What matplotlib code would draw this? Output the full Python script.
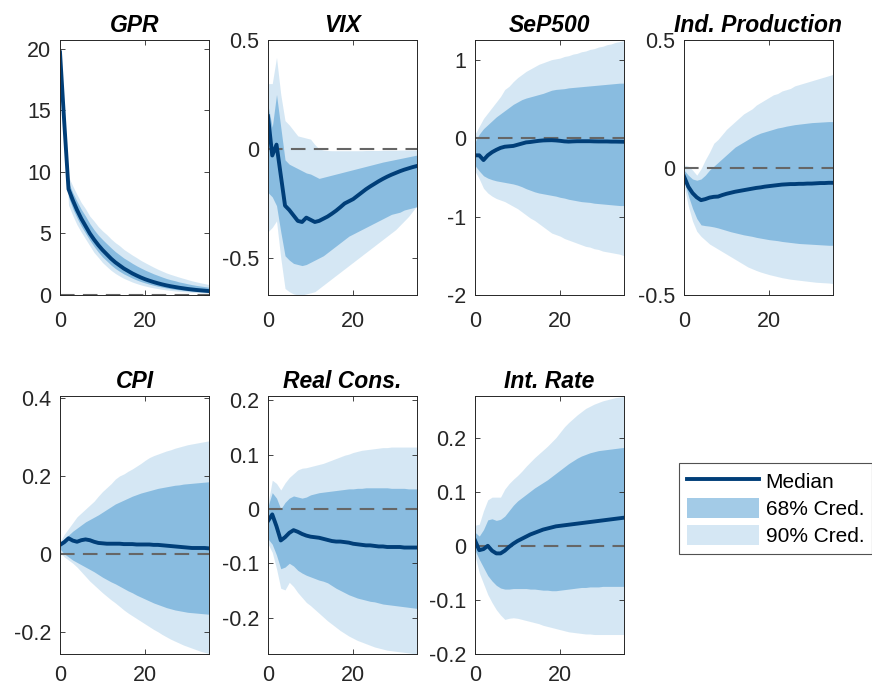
import matplotlib
matplotlib.use("Agg")
import matplotlib.pyplot as plt
import numpy as np

plt.rcParams['font.family'] = ['Liberation Sans', 'DejaVu Sans']

horizons = list(range(36))

# ---------------- GPR ----------------
gpr_med = [19.7, 14.0, 8.6, 7.7, 6.9, 6.2, 5.6, 5.0, 4.5, 4.05, 3.65, 3.3, 2.95, 2.65, 2.4, 2.15, 1.95, 1.75,
           1.58, 1.42, 1.28, 1.16, 1.05, 0.95, 0.86, 0.78, 0.71, 0.65, 0.59, 0.54, 0.49, 0.45, 0.41, 0.38, 0.35, 0.32]
gpr_up90 = [19.9, 14.5, 9.6, 8.85, 8.15, 7.5, 7.0, 6.4, 6.0, 5.55, 5.2, 4.9, 4.55, 4.25, 4.0, 3.7, 3.47, 3.24,
            3.03, 2.81, 2.62, 2.44, 2.26, 2.09, 1.94, 1.79, 1.67, 1.56, 1.45, 1.35, 1.25, 1.15, 1.07, 0.99, 0.92, 0.85]
gpr_lo90 = [19.5, 13.3, 7.3, 6.45, 5.7, 5.1, 4.55, 4.0, 3.45, 3.05, 2.63, 2.31, 2.0, 1.75, 1.54, 1.35, 1.2, 1.05,
            0.93, 0.82, 0.73, 0.65, 0.58, 0.52, 0.46, 0.41, 0.37, 0.33, 0.3, 0.27, 0.245, 0.22, 0.2, 0.18, 0.165, 0.15]
gpr_up68 = [19.8, 14.25, 9.15, 8.3, 7.6, 6.95, 6.4, 5.8, 5.3, 4.86, 4.5, 4.16, 3.83, 3.52, 3.26, 3.0, 2.79, 2.57,
            2.37, 2.19, 2.02, 1.87, 1.72, 1.59, 1.46, 1.34, 1.24, 1.16, 1.06, 0.99, 0.91, 0.84, 0.78, 0.73, 0.68, 0.63]
gpr_lo68 = [19.6, 13.7, 7.95, 7.0, 6.25, 5.58, 5.01, 4.45, 3.94, 3.48, 3.08, 2.76, 2.43, 2.15, 1.92, 1.71, 1.54, 1.37,
            1.22, 1.09, 0.98, 0.88, 0.79, 0.71, 0.64, 0.57, 0.51, 0.46, 0.42, 0.38, 0.34, 0.31, 0.28, 0.26, 0.24, 0.22]

# ---------------- VIX ----------------
vix_med = [0.15, -0.03, 0.02, -0.12, -0.26, -0.28, -0.305, -0.33, -0.335, -0.315, -0.325, -0.335, -0.33, -0.32,
           -0.31, -0.297, -0.283, -0.267, -0.25, -0.24, -0.23, -0.215, -0.2, -0.185, -0.172, -0.16, -0.148, -0.137,
           -0.127, -0.118, -0.11, -0.102, -0.095, -0.089, -0.083, -0.078]
vix_up90 = [0.3, 0.3, 0.42, 0.25, 0.13, 0.11, 0.085, 0.06, 0.055, 0.05, 0.045, 0.02, 0.0, -0.005, -0.007, -0.008,
            -0.008, -0.008, -0.008, -0.008, -0.008, -0.008, -0.008, -0.007, -0.007, -0.007, -0.007, -0.006, -0.006,
            -0.006, -0.006, -0.005, -0.005, -0.005, -0.005, -0.005]
vix_lo90 = [-0.38, -0.36, -0.33, -0.5, -0.64, -0.655, -0.665, -0.67, -0.67, -0.665, -0.66, -0.655, -0.64, -0.625,
            -0.61, -0.595, -0.58, -0.565, -0.55, -0.535, -0.52, -0.505, -0.49, -0.475, -0.46, -0.445, -0.43, -0.415,
            -0.4, -0.385, -0.37, -0.35, -0.33, -0.31, -0.285, -0.26]
vix_up68 = [0.2, 0.1, 0.25, 0.1, -0.05, -0.07, -0.08, -0.09, -0.1, -0.11, -0.115, -0.125, -0.135, -0.13, -0.125,
            -0.12, -0.115, -0.11, -0.105, -0.1, -0.095, -0.09, -0.085, -0.08, -0.075, -0.07, -0.065, -0.06, -0.056,
            -0.052, -0.048, -0.044, -0.04, -0.036, -0.032, -0.028]
vix_lo68 = [-0.2, -0.22, -0.26, -0.38, -0.49, -0.51, -0.525, -0.53, -0.535, -0.53, -0.52, -0.51, -0.5, -0.49,
            -0.475, -0.46, -0.445, -0.43, -0.415, -0.4, -0.39, -0.38, -0.37, -0.36, -0.35, -0.34, -0.33, -0.32,
            -0.31, -0.3, -0.295, -0.29, -0.28, -0.275, -0.27, -0.265]

# ---------------- SeP500 ----------------
sp_med = [-0.22, -0.22, -0.28, -0.22, -0.18, -0.15, -0.125, -0.11, -0.105, -0.1, -0.085, -0.07, -0.055, -0.05,
          -0.042, -0.035, -0.03, -0.028, -0.027, -0.03, -0.035, -0.042, -0.045, -0.042, -0.04, -0.04, -0.04, -0.04,
          -0.042, -0.043, -0.043, -0.043, -0.045, -0.045, -0.046, -0.047]
sp_up90 = [0.05, 0.15, 0.25, 0.32, 0.39, 0.46, 0.53, 0.62, 0.66, 0.72, 0.77, 0.81, 0.85, 0.88, 0.91, 0.94, 0.96,
           0.98, 1.0, 1.01, 1.02, 1.04, 1.05, 1.07, 1.08, 1.1, 1.11, 1.13, 1.14, 1.16, 1.17, 1.19, 1.2, 1.22, 1.23, 1.245]
sp_lo90 = [-0.42, -0.52, -0.64, -0.7, -0.74, -0.77, -0.79, -0.81, -0.84, -0.87, -0.9, -0.94, -0.98, -1.02, -1.05,
           -1.09, -1.13, -1.17, -1.21, -1.23, -1.25, -1.28, -1.3, -1.32, -1.34, -1.36, -1.38, -1.39, -1.41, -1.42,
           -1.44, -1.45, -1.46, -1.47, -1.48, -1.5]
sp_up68 = [-0.05, 0.05, 0.12, 0.17, 0.22, 0.27, 0.31, 0.35, 0.39, 0.43, 0.46, 0.49, 0.51, 0.525, 0.54, 0.555, 0.57,
           0.59, 0.61, 0.62, 0.625, 0.63, 0.64, 0.645, 0.65, 0.655, 0.66, 0.665, 0.67, 0.675, 0.68, 0.685, 0.69,
           0.695, 0.7, 0.7]
sp_lo68 = [-0.35, -0.42, -0.48, -0.51, -0.53, -0.545, -0.555, -0.565, -0.575, -0.585, -0.6, -0.62, -0.645, -0.665,
           -0.685, -0.7, -0.71, -0.72, -0.73, -0.74, -0.755, -0.765, -0.78, -0.79, -0.8, -0.81, -0.815, -0.82, -0.83,
           -0.835, -0.84, -0.845, -0.85, -0.855, -0.86, -0.86]

# ---------------- Ind. Production ----------------
ip_med = [-0.035, -0.075, -0.1, -0.117, -0.128, -0.124, -0.118, -0.115, -0.114, -0.108, -0.103, -0.099, -0.095,
          -0.092, -0.089, -0.086, -0.083, -0.08, -0.078, -0.075, -0.073, -0.071, -0.069, -0.067, -0.066, -0.065,
          -0.065, -0.064, -0.064, -0.063, -0.063, -0.062, -0.061, -0.061, -0.06, -0.06]
ip_up90 = [0.01, 0.005, -0.01, -0.03, -0.005, 0.03, 0.06, 0.095, 0.11, 0.13, 0.15, 0.165, 0.18, 0.195, 0.21, 0.22,
           0.23, 0.245, 0.255, 0.265, 0.275, 0.285, 0.29, 0.3, 0.305, 0.31, 0.32, 0.325, 0.33, 0.335, 0.34, 0.345,
           0.35, 0.355, 0.36, 0.365]
ip_lo90 = [-0.07, -0.15, -0.21, -0.25, -0.27, -0.285, -0.3, -0.31, -0.32, -0.33, -0.34, -0.35, -0.36, -0.37, -0.38,
           -0.39, -0.397, -0.404, -0.41, -0.415, -0.42, -0.424, -0.428, -0.432, -0.435, -0.438, -0.44, -0.442,
           -0.444, -0.446, -0.448, -0.45, -0.451, -0.452, -0.453, -0.455]
ip_up68 = [-0.01, -0.03, -0.045, -0.05, -0.045, -0.03, -0.01, 0.005, 0.02, 0.035, 0.05, 0.065, 0.08, 0.09, 0.1,
           0.11, 0.12, 0.128, 0.135, 0.14, 0.145, 0.15, 0.155, 0.158, 0.162, 0.165, 0.168, 0.17, 0.172, 0.174,
           0.176, 0.177, 0.178, 0.179, 0.18, 0.18]
ip_lo68 = [-0.05, -0.11, -0.16, -0.2, -0.225, -0.228, -0.23, -0.233, -0.237, -0.242, -0.247, -0.252, -0.256, -0.26,
           -0.264, -0.267, -0.27, -0.274, -0.277, -0.28, -0.283, -0.285, -0.287, -0.29, -0.292, -0.294, -0.296,
           -0.298, -0.299, -0.3, -0.301, -0.302, -0.303, -0.304, -0.305, -0.305]

# ---------------- CPI ----------------
cpi_med = [0.023, 0.03, 0.04, 0.034, 0.031, 0.035, 0.037, 0.035, 0.031, 0.028, 0.027, 0.026, 0.026, 0.026, 0.026,
           0.025, 0.025, 0.025, 0.024, 0.024, 0.024, 0.024, 0.023, 0.023, 0.022, 0.021, 0.02, 0.019, 0.018, 0.017,
           0.016, 0.015, 0.015, 0.015, 0.015, 0.014]
cpi_up90 = [0.03, 0.05, 0.065, 0.08, 0.095, 0.105, 0.115, 0.125, 0.135, 0.148, 0.16, 0.17, 0.18, 0.192, 0.2, 0.205,
            0.212, 0.218, 0.225, 0.232, 0.24, 0.247, 0.252, 0.256, 0.26, 0.264, 0.267, 0.271, 0.274, 0.277, 0.28,
            0.282, 0.284, 0.286, 0.288, 0.29]
cpi_lo90 = [0.004, -0.008, -0.016, -0.024, -0.034, -0.046, -0.058, -0.07, -0.08, -0.09, -0.1, -0.109, -0.118,
            -0.126, -0.135, -0.144, -0.152, -0.159, -0.166, -0.173, -0.18, -0.187, -0.194, -0.2, -0.207, -0.213,
            -0.219, -0.224, -0.229, -0.234, -0.238, -0.242, -0.246, -0.25, -0.253, -0.256]
cpi_up68 = [0.027, 0.038, 0.048, 0.058, 0.066, 0.074, 0.082, 0.088, 0.094, 0.1, 0.107, 0.114, 0.121, 0.128, 0.133,
            0.138, 0.143, 0.148, 0.152, 0.156, 0.159, 0.162, 0.165, 0.168, 0.17, 0.172, 0.174, 0.176, 0.177, 0.179,
            0.18, 0.181, 0.182, 0.183, 0.184, 0.185]
cpi_lo68 = [0.013, 0.0, -0.008, -0.016, -0.022, -0.028, -0.034, -0.04, -0.046, -0.053, -0.06, -0.066, -0.072,
            -0.077, -0.083, -0.089, -0.095, -0.1, -0.106, -0.111, -0.116, -0.121, -0.126, -0.13, -0.134, -0.138,
            -0.141, -0.144, -0.146, -0.148, -0.15, -0.151, -0.152, -0.153, -0.154, -0.155]

# ---------------- Real Cons. ----------------
rc_med = [-0.022, -0.01, -0.032, -0.058, -0.052, -0.044, -0.039, -0.042, -0.046, -0.049, -0.051, -0.052, -0.053,
          -0.055, -0.057, -0.059, -0.06, -0.06, -0.061, -0.062, -0.064, -0.065, -0.066, -0.067, -0.067, -0.068,
          -0.069, -0.069, -0.07, -0.07, -0.07, -0.07, -0.071, -0.071, -0.071, -0.071]
rc_up90 = [0.01, 0.053, 0.047, 0.035, 0.048, 0.058, 0.065, 0.072, 0.075, 0.076, 0.078, 0.08, 0.082, 0.084, 0.087,
           0.09, 0.093, 0.096, 0.099, 0.101, 0.104, 0.106, 0.108, 0.109, 0.11, 0.111, 0.112, 0.113, 0.113, 0.114,
           0.114, 0.114, 0.114, 0.114, 0.114, 0.114]
rc_lo90 = [-0.064, -0.08, -0.11, -0.146, -0.149, -0.135, -0.143, -0.154, -0.163, -0.172, -0.178, -0.185, -0.192,
           -0.199, -0.206, -0.212, -0.218, -0.224, -0.229, -0.234, -0.238, -0.242, -0.245, -0.248, -0.251, -0.254,
           -0.256, -0.258, -0.26, -0.261, -0.262, -0.263, -0.264, -0.265, -0.266, -0.267]
rc_up68 = [0.005, 0.03, 0.02, 0.0, 0.012, 0.02, 0.024, 0.022, 0.02, 0.022, 0.026, 0.028, 0.03, 0.031, 0.032, 0.033,
           0.034, 0.035, 0.036, 0.037, 0.037, 0.038, 0.038, 0.039, 0.039, 0.039, 0.039, 0.039, 0.039, 0.038, 0.038,
           0.038, 0.038, 0.037, 0.037, 0.037]
rc_lo68 = [-0.055, -0.065, -0.085, -0.11, -0.107, -0.1, -0.105, -0.113, -0.118, -0.122, -0.125, -0.128, -0.131,
           -0.133, -0.136, -0.141, -0.146, -0.15, -0.154, -0.158, -0.161, -0.164, -0.166, -0.168, -0.17, -0.171,
           -0.173, -0.175, -0.176, -0.177, -0.178, -0.179, -0.18, -0.181, -0.182, -0.183]

# ---------------- Int. Rate ----------------
ir_med = [0.01, -0.008, -0.006, 0.0, -0.009, -0.014, -0.014, -0.009, -0.002, 0.004, 0.009, 0.013, 0.017, 0.021,
          0.024, 0.027, 0.03, 0.032, 0.034, 0.036, 0.037, 0.038, 0.039, 0.04, 0.041, 0.042, 0.043, 0.044, 0.045,
          0.046, 0.047, 0.048, 0.049, 0.05, 0.051, 0.052]
ir_up90 = [0.038, 0.04, 0.065, 0.085, 0.09, 0.09, 0.09, 0.105, 0.115, 0.123, 0.13, 0.138, 0.147, 0.155, 0.163, 0.17,
           0.177, 0.184, 0.192, 0.2, 0.21, 0.22, 0.228, 0.235, 0.242, 0.248, 0.254, 0.258, 0.262, 0.265, 0.268,
           0.27, 0.272, 0.274, 0.275, 0.276]
ir_lo90 = [-0.018, -0.05, -0.07, -0.09, -0.105, -0.118, -0.128, -0.136, -0.134, -0.133, -0.134, -0.136, -0.138,
           -0.14, -0.142, -0.144, -0.147, -0.149, -0.151, -0.153, -0.155, -0.157, -0.159, -0.16, -0.161, -0.162,
           -0.163, -0.163, -0.164, -0.164, -0.164, -0.164, -0.164, -0.164, -0.164, -0.164]
ir_up68 = [0.025, 0.018, 0.03, 0.048, 0.05, 0.047, 0.049, 0.055, 0.065, 0.075, 0.083, 0.089, 0.095, 0.101, 0.107,
           0.112, 0.117, 0.122, 0.128, 0.134, 0.14, 0.146, 0.152, 0.157, 0.162, 0.166, 0.169, 0.172, 0.174, 0.176,
           0.177, 0.178, 0.179, 0.18, 0.181, 0.182]
ir_lo68 = [-0.008, -0.025, -0.04, -0.055, -0.065, -0.073, -0.078, -0.08, -0.08, -0.079, -0.079, -0.079, -0.079,
           -0.08, -0.08, -0.081, -0.082, -0.082, -0.083, -0.083, -0.082, -0.081, -0.08, -0.079, -0.078, -0.077,
           -0.077, -0.076, -0.076, -0.076, -0.075, -0.075, -0.075, -0.075, -0.075, -0.075]

titles = ['GPR', 'VIX', 'SeP500', 'Ind. Production', 'CPI', 'Real Cons.', 'Int. Rate']
medians = [gpr_med, vix_med, sp_med, ip_med, cpi_med, rc_med, ir_med]
upper90 = [gpr_up90, vix_up90, sp_up90, ip_up90, cpi_up90, rc_up90, ir_up90]
lower90 = [gpr_lo90, vix_lo90, sp_lo90, ip_lo90, cpi_lo90, rc_lo90, ir_lo90]
upper68 = [gpr_up68, vix_up68, sp_up68, ip_up68, cpi_up68, rc_up68, ir_up68]
lower68 = [gpr_lo68, vix_lo68, sp_lo68, ip_lo68, cpi_lo68, rc_lo68, ir_lo68]
y_limits = [(0, 20.7), (-0.67, 0.5), (-2, 1.25), (-0.5, 0.5), (-0.257, 0.405), (-0.267, 0.208), (-0.2, 0.277)]
y_ticks = [[0, 5, 10, 15, 20], [-0.5, 0, 0.5], [-2, -1, 0, 1], [-0.5, 0, 0.5],
           [-0.2, 0, 0.2, 0.4], [-0.2, -0.1, 0, 0.1, 0.2], [-0.2, -0.1, 0, 0.1, 0.2]]
y_ticklabels = [['0', '5', '10', '15', '20'], ['-0.5', '0', '0.5'], ['-2', '-1', '0', '1'], ['-0.5', '0', '0.5'],
                ['-0.2', '0', '0.2', '0.4'], ['-0.2', '-0.1', '0', '0.1', '0.2'], ['-0.2', '-0.1', '0', '0.1', '0.2']]
legend_labels = ['Median', '68% Cred.', '90% Cred.']

W, H = 872, 689
fig = plt.figure(figsize=(W / 100, H / 100), dpi=100)

band_color = (25 / 255, 125 / 255, 195 / 255)
median_color = (0 / 255, 62 / 255, 120 / 255)
axis_color = (0.15, 0.15, 0.15)

col_left = [60, 268, 475, 684]
row_box = [(40, 295), (396, 654)]
x_label_pad = [11.5, 8.0]
ax_w = 149

handles = None
for i, name in enumerate(titles):
    r, c = divmod(i, 4)
    top, bot = row_box[r]
    ax = fig.add_axes([col_left[c] / W, 1 - bot / H, ax_w / W, (bot - top) / H])
    f90 = ax.fill_between(horizons, lower90[i], upper90[i], color=band_color, alpha=0.18, lw=0)
    f68 = ax.fill_between(horizons, lower68[i], upper68[i], color=band_color, alpha=0.4, lw=0)
    ax.axhline(0, color=(0.4, 0.4, 0.4), lw=1.5, dashes=(7, 4))
    ln, = ax.plot(horizons, medians[i], color=median_color, lw=2.8, solid_joinstyle='round')
    if handles is None:
        handles = [ln, f68, f90]
    ax.set_xlim(0, 35)
    ax.set_ylim(*y_limits[i])
    ax.set_xticks([0, 20])
    ax.set_xticklabels(['0', '20'])
    ax.set_yticks(y_ticks[i])
    ax.set_yticklabels(y_ticklabels[i])
    ax.tick_params(direction='in', length=3.5, width=0.6, top=True, right=True,
                   labelsize=15.5, colors=axis_color, labelcolor=axis_color)
    ax.tick_params(axis='x', pad=x_label_pad[r])
    ax.tick_params(axis='y', pad=6.5)
    for s in ax.spines.values():
        s.set_color(axis_color)
        s.set_linewidth(0.7)
    ax.set_title(name, fontsize=16.5, fontweight='bold', fontstyle='italic', pad=6)

leg = fig.legend(handles, legend_labels, loc='upper left', bbox_to_anchor=(679 / W, 1 - 463 / H),
                 fontsize=15, frameon=True, fancybox=False, handlelength=3.5, handleheight=1.1,
                 handletextpad=0.3, labelspacing=0.3, borderpad=0.36, borderaxespad=0)
leg.get_frame().set_edgecolor((0.15, 0.15, 0.15))
leg.get_frame().set_linewidth(0.8)

fig.savefig('out.png', dpi=100)
